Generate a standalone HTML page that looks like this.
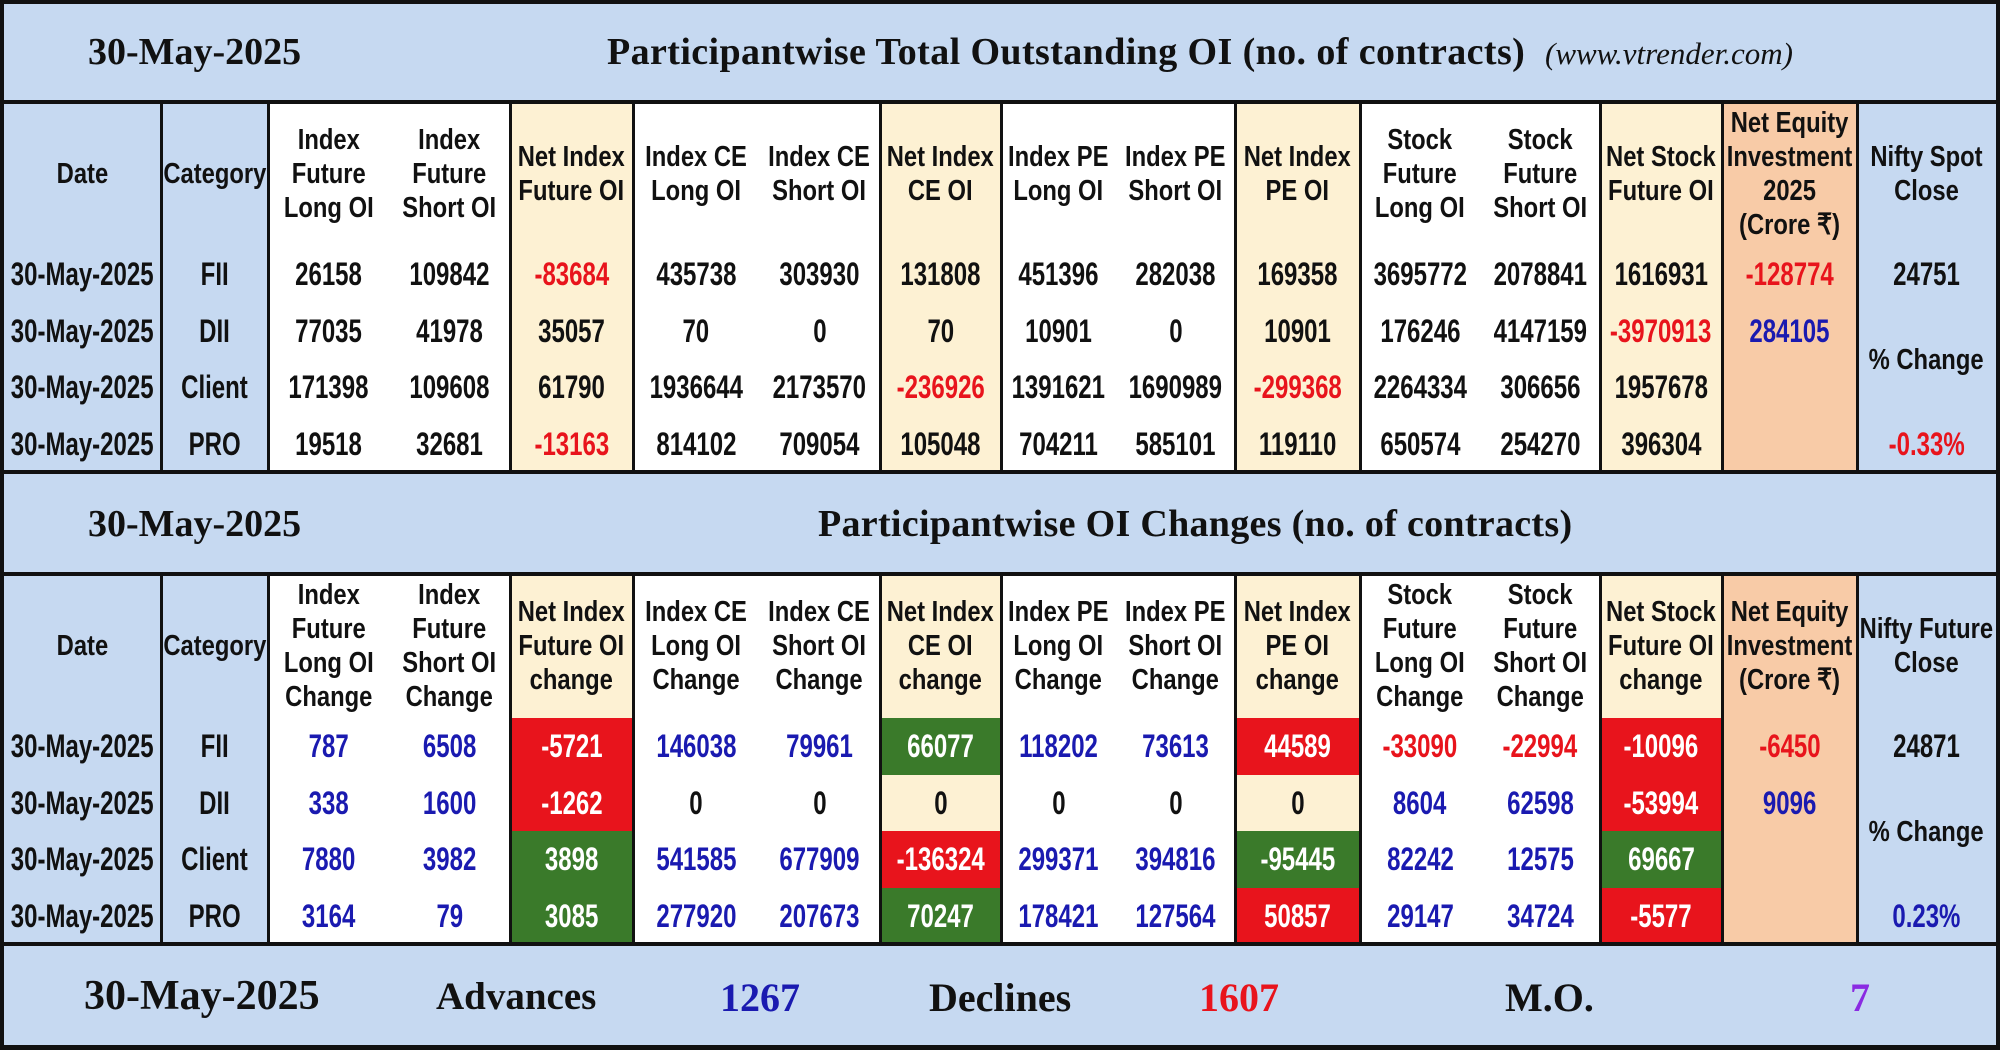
<!DOCTYPE html>
<html><head><meta charset="utf-8">
<style>
body{margin:0;width:2000px;height:1050px;overflow:hidden;background:#fff;}
#root{position:relative;width:2000px;height:1050px;background:#c6d9f1;font-family:"Liberation Sans",Arial,sans-serif;}
.abs{position:absolute;}
.cell{position:absolute;display:flex;align-items:center;justify-content:center;white-space:nowrap;overflow:visible;}
.cell span{display:inline-block;transform:scaleX(0.82);text-align:center;font-weight:bold;}
.dt span{transform:scaleX(0.75);}
.hd span{font-size:29px;line-height:34px;color:#111;}
.dt span{font-size:32px;line-height:36px;}
.serif{font-family:"Liberation Serif","DejaVu Serif",serif;font-weight:bold;color:#111;position:absolute;white-space:nowrap;}
</style></head>
<body>
<div id="root">
  <div class="serif" style="left:88px;top:30px;font-size:38px;">30-May-2025</div>
  <div class="serif" style="left:607px;top:30px;font-size:38px;letter-spacing:0.4px;">Participantwise Total Outstanding OI (no. of contracts)</div>
  <div class="serif" style="left:1545px;top:36px;font-size:31px;font-weight:normal;font-style:italic;">(www.vtrender.com)</div>
  <div class="serif" style="left:88px;top:502px;font-size:38px;">30-May-2025</div>
  <div class="serif" style="left:818px;top:502px;font-size:38px;letter-spacing:0.3px;">Participantwise OI Changes (no. of contracts)</div>
  <div class="serif" style="left:84px;top:972px;font-size:42px;">30-May-2025</div>
  <div class="serif" style="left:436px;top:974px;font-size:39px;">Advances</div>
  <div class="serif" style="left:720px;top:974px;font-size:40px;color:#1a1ab0;">1267</div>
  <div class="serif" style="left:929px;top:974px;font-size:40px;">Declines</div>
  <div class="serif" style="left:1199px;top:974px;font-size:40px;color:#e8141c;">1607</div>
  <div class="serif" style="left:1505px;top:974px;font-size:40px;">M.O.</div>
  <div class="serif" style="left:1850px;top:974px;font-size:40px;color:#8a2be2;">7</div>
</div>
<script>
const categories=["FII","DII","Client","PRO"];
const dateLabel="30-May-2025";
const t1IdxFutLong=[26158,77035,171398,19518];
const t1IdxFutShort=[109842,41978,109608,32681];
const t1NetIdxFut=[-83684,35057,61790,-13163];
const t1CeLong=[435738,70,1936644,814102];
const t1CeShort=[303930,0,2173570,709054];
const t1NetCe=[131808,70,-236926,105048];
const t1PeLong=[451396,10901,1391621,704211];
const t1PeShort=[282038,0,1690989,585101];
const t1NetPe=[169358,10901,-299368,119110];
const t1StkLong=[3695772,176246,2264334,650574];
const t1StkShort=[2078841,4147159,306656,254270];
const t1NetStk=[1616931,-3970913,1957678,396304];
const t1NetEq=[-128774,284105];
const t1Nifty="24751", t1Pct="-0.33%";
const t2IdxFutLong=[787,338,7880,3164];
const t2IdxFutShort=[6508,1600,3982,79];
const t2NetIdxFut=[-5721,-1262,3898,3085];
const t2CeLong=[146038,0,541585,277920];
const t2CeShort=[79961,0,677909,207673];
const t2NetCe=[66077,0,-136324,70247];
const t2PeLong=[118202,0,299371,178421];
const t2PeShort=[73613,0,394816,127564];
const t2NetPe=[44589,0,-95445,50857];
const t2StkLong=[-33090,8604,82242,29147];
const t2StkShort=[-22994,62598,12575,34724];
const t2NetStk=[-10096,-53994,69667,-5577];
const t2NetEq=[-6450,9096];
const t2Nifty="24871", t2Pct="0.23%";

const root=document.getElementById('root');
const X=[4,161,268,389,510,633,759,880,1001,1116,1235,1360,1480,1600,1722,1857,1996];
const BLUE='#c6d9f1',WH='#ffffff',CR='#fdf1d3',OR='#f8cba7',RED='#e8141c',GRN='#3a7a2a',TBLUE='#1a1ab0';
const colBg=[BLUE,BLUE,WH,WH,CR,WH,WH,CR,WH,WH,CR,WH,WH,CR,OR,BLUE];
const h1=["Date","Category","Index<br>Future<br>Long OI","Index<br>Future<br>Short OI","Net Index<br>Future OI","Index CE<br>Long OI","Index CE<br>Short OI","Net Index<br>CE OI","Index PE<br>Long OI","Index PE<br>Short OI","Net Index<br>PE OI","Stock<br>Future<br>Long OI","Stock<br>Future<br>Short OI","Net Stock<br>Future OI","Net Equity<br>Investment<br>2025<br>(Crore ₹)","Nifty Spot<br>Close"];
const h2=["Date","Category","Index<br>Future<br>Long OI<br>Change","Index<br>Future<br>Short OI<br>Change","Net Index<br>Future OI<br>change","Index CE<br>Long OI<br>Change","Index CE<br>Short OI<br>Change","Net Index<br>CE OI<br>change","Index PE<br>Long OI<br>Change","Index PE<br>Short OI<br>Change","Net Index<br>PE OI<br>change","Stock<br>Future<br>Long OI<br>Change","Stock<br>Future<br>Short OI<br>Change","Net Stock<br>Future OI<br>change","Net Equity<br>Investment<br>(Crore ₹)","Nifty Future<br>Close"];

function rect(x,y,w,h,bg){const d=document.createElement('div');d.className='abs';d.style.cssText=`left:${x}px;top:${y}px;width:${w}px;height:${h}px;background:${bg}`;root.appendChild(d);return d;}
function cell(x0,x1,y,h,html,cls,color,bg){const d=document.createElement('div');d.className='cell '+cls;d.style.cssText=`left:${x0}px;top:${y}px;width:${x1-x0}px;height:${h}px;`+(bg?`background:${bg};`:'');const s=document.createElement('span');s.innerHTML=html;s.style.color=color||'#111';d.appendChild(s);root.appendChild(d);return d;}

function table(top,hdrH,rowTop,rowH,headers,cols,netIdx,tnum,changeMode,neq,nifty,pct,pctY,tag){
  for(let c=0;c<16;c++){const r=rect(X[c],top,X[c+1]-X[c],rowTop+rowH*4-top,colBg[c]);
    
    }
  for(let c=0;c<16;c++){const d=cell(X[c],X[c+1],top,hdrH,headers[c],'hd');
    
    }
  for(let r=0;r<4;r++){
    const y=rowTop+rowH*r;
    let d=cell(X[0],X[1],y,rowH,dateLabel,'dt');
    
    
    d=cell(X[1],X[2],y,rowH,categories[r],'dt');
    
    
    for(let k=0;k<cols.length;k++){
      const c=k+2,v=cols[k][r];let color='#111',bg=null;
      if(changeMode){
        if(netIdx.includes(c)){
          const good=(c===10)?v<0:v>0;
          if(v===0){color='#111';}else{bg=good?GRN:RED;color='#fff';}
        }else color=v>0?TBLUE:(v<0?RED:'#111');
      }else{ if(netIdx.includes(c)&&v<0)color=RED; }
      d=cell(X[c],X[c+1],y,rowH,String(v),'dt',color,bg);
      
      
    }
  }
  for(let r=0;r<2;r++){const v=neq[r];
    const d=cell(X[14],X[15],rowTop+rowH*r,rowH,String(v),'dt',v<0?RED:TBLUE);
    
    }
  let d=cell(X[15],X[16],rowTop,rowH,nifty,'dt');
  
  
  d=cell(X[15],X[16],pctY-28,56,'% Change','hd');
  
  
  d=cell(X[15],X[16],rowTop+rowH*3,rowH,pct,'dt',pct.startsWith('-')?RED:TBLUE);
  
  
  const noBorder=[3,6,9,12];
  for(let c=1;c<16;c++){ if(noBorder.includes(c))continue;
    const l=rect(X[c]-1,top,3,rowTop+rowH*4-top,'#111');
    
    }
}
table(102,143,246,56.5,h1,[t1IdxFutLong,t1IdxFutShort,t1NetIdxFut,t1CeLong,t1CeShort,t1NetCe,t1PeLong,t1PeShort,t1NetPe,t1StkLong,t1StkShort,t1NetStk],[4,7,10,13],null,false,t1NetEq,t1Nifty,t1Pct,360,'oi');
table(574,143,718,56.5,h2,[t2IdxFutLong,t2IdxFutShort,t2NetIdxFut,t2CeLong,t2CeShort,t2NetCe,t2PeLong,t2PeShort,t2NetPe,t2StkLong,t2StkShort,t2NetStk],[4,7,10,13],null,true,t2NetEq,t2Nifty,t2Pct,832,'chg');
[[0,4],[100,4],[470,4],[572,4],[942,4],[1045,5]].forEach((a,i)=>{const l=rect(0,a[0],2000,a[1],'#111');
  
  });
[[0,4],[1996,4]].forEach((a,i)=>{const l=rect(a[0],0,a[1],1050,'#111');
  
  });
</script>
</body></html>
